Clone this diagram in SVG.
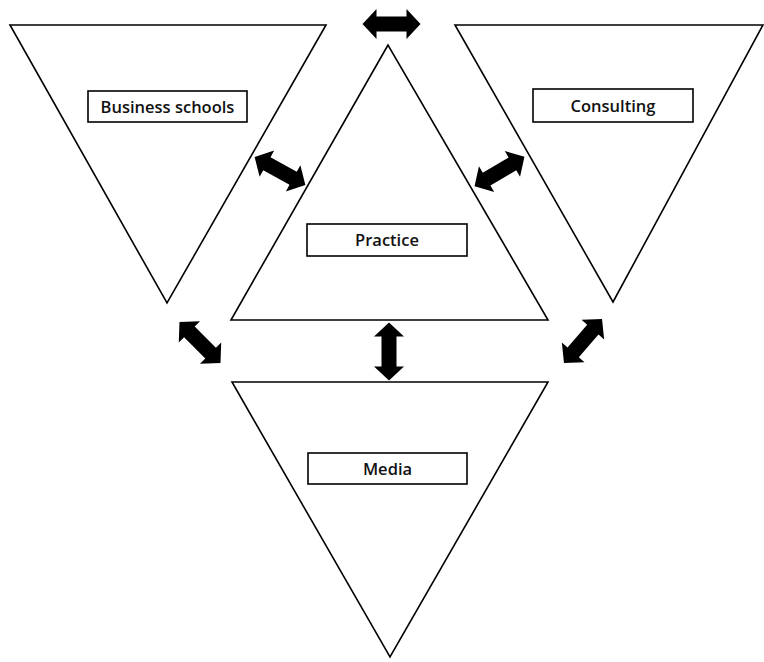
<svg xmlns="http://www.w3.org/2000/svg" width="764" height="662" viewBox="0 0 764 662">
<style>
.tri{fill:#fff;stroke:#000;stroke-width:1.6;stroke-linejoin:miter}
.box{fill:#fff;stroke:#000;stroke-width:1.6}
.lbl{font-family:"Open Sans","Noto Sans",sans-serif;font-weight:600;font-size:16.5px;fill:#111;text-anchor:middle}
.arr{fill:#000}
</style>
<defs>
<path id="dbl" d="M-29,0 L-15,-15 L-15,-7.5 L15,-7.5 L15,-15 L29,0 L15,15 L15,7.5 L-15,7.5 L-15,15 Z"/>
</defs>
<rect width="764" height="662" fill="#fff"/>
<g id="business-schools">
<polygon class="tri" points="10,25 326,25 167,303"/>
<rect class="box" x="88" y="91" width="159" height="31"/>
<text class="lbl" x="167.5" y="112.5">Business schools</text>
</g>
<g id="consulting">
<polygon class="tri" points="455,25 763,25 613,302"/>
<rect class="box" x="533" y="89" width="160" height="33"/>
<text class="lbl" x="613" y="111.5">Consulting</text>
</g>
<g id="practice">
<polygon class="tri" points="388,45 231,320 548,320"/>
<rect class="box" x="307" y="224" width="160" height="32"/>
<text class="lbl" x="387" y="246">Practice</text>
</g>
<g id="media">
<polygon class="tri" points="232,382 548,382 390,657"/>
<rect class="box" x="308" y="453" width="159" height="31"/>
<text class="lbl" x="387.5" y="474.5">Media</text>
</g>
<g id="connectors" class="arr">
<use href="#dbl" transform="translate(391.5,24) rotate(0)"/>
<use href="#dbl" transform="translate(280,171) rotate(29)"/>
<use href="#dbl" transform="translate(499.5,171.5) rotate(-30.6)"/>
<use href="#dbl" transform="translate(200,342.5) rotate(45)"/>
<use href="#dbl" transform="translate(583,341) rotate(-49)"/>
<use href="#dbl" transform="translate(389,351.5) rotate(90)"/>
</g>
</svg>
